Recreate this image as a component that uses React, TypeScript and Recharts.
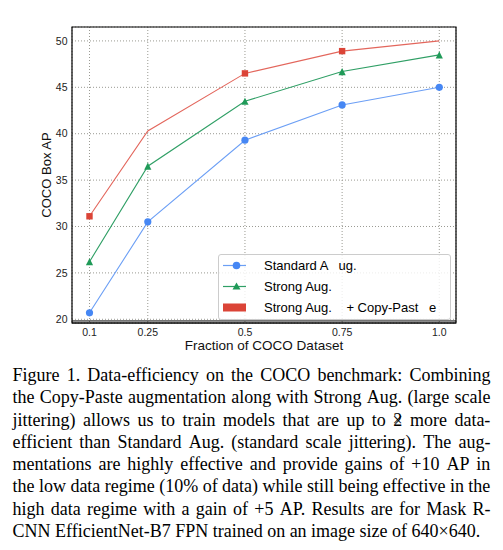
import React from 'react';
import {
  LineChart,
  Line,
  XAxis,
  YAxis,
  CartesianGrid,
  Legend,
  Label,
  ReferenceArea,
  ReferenceLine,
} from 'recharts';

// ---- data ----
const fractions = [0.1, 0.25, 0.5, 0.75, 1.0];
const xTickLabels = ['0.1', '0.25', '0.5', '0.75', '1.0'];
const yTicks = [20, 25, 30, 35, 40, 45, 50];
const standardAug = [20.7, 30.5, 39.3, 43.1, 45.0];
const strongAug = [26.2, 36.5, 43.5, 46.7, 48.5];
const copyPaste = [31.1, 40.3, 46.5, 48.9, 50.0];
const copyPasteMarked = [true, false, true, true, false];
const seriesNames = ['Standard A   ug.', 'Strong Aug.', 'Strong Aug.    + Copy-Past   e'];
const lineColors = ['#6c9ff5', '#2f9f65', '#e3665c'];
const markerColors = ['#4687f4', '#1f9a58', '#db4437'];
const legendShapes = ['circle', 'triangle', 'rect'];
const captionLines = [
  'Figure 1. Data-efficiency on the COCO benchmark: Combining',
  'the Copy-Paste augmentation along with Strong Aug. (large scale',
  'jittering) allows us to train models that are up to 2× more data-',
  'efficient than Standard Aug. (standard scale jittering). The aug-',
  'mentations are highly effective and provide gains of +10 AP in',
  'the low data regime (10% of data) while still being effective in the',
  'high data regime with a gain of +5 AP. Results are for Mask R-',
  'CNN EfficientNet-B7 FPN trained on an image size of 640×640.',
];

const X_DOMAIN: [number, number] = [0.055, 1.043];
const Y_DOMAIN: [number, number] = [19.6, 51.5];
const Y_DOUBLE_LINE = 19.82;

const data = fractions.map((x, i) => ({
  x,
  std: standardAug[i],
  strong: strongAug[i],
  cp: copyPaste[i],
  cpMarked: copyPasteMarked[i],
}));

const sans = '"Liberation Sans", Arial, sans-serif';
const serif = '"Liberation Serif", "Times New Roman", serif';

const CircleDot = (props: any) => {
  const { cx, cy, index } = props;
  if (cx == null || cy == null) return <g key={`c${index}`} />;
  return <circle key={`c${index}`} cx={cx} cy={cy} r={3.6} fill={markerColors[0]} stroke="none" />;
};

const TriangleDot = (props: any) => {
  const { cx, cy, index } = props;
  if (cx == null || cy == null) return <g key={`t${index}`} />;
  const r = 3.6;
  return (
    <polygon
      key={`t${index}`}
      points={`${cx},${cy - r} ${cx - r},${cy + r} ${cx + r},${cy + r}`}
      fill={markerColors[1]}
      stroke="none"
    />
  );
};

const SquareDot = (props: any) => {
  const { cx, cy, index, payload } = props;
  if (cx == null || cy == null || !payload || !payload.cpMarked) return <g key={`s${index}`} />;
  const h = 3.2;
  return <rect key={`s${index}`} x={cx - h} y={cy - h} width={2 * h} height={2 * h} fill={markerColors[2]} stroke="none" />;
};

const LegendSample = ({ shape, i }: { shape: string; i: number }) => {
  if (shape === 'rect') {
    return (
      <svg width={23} height={21} style={{ display: 'block' }}>
        <rect x={0} y={6.5} width={23} height={8} fill={markerColors[i]} />
      </svg>
    );
  }
  return (
    <svg width={23} height={21} style={{ display: 'block' }}>
      <line x1={0} y1={10.5} x2={23} y2={10.5} stroke={lineColors[i]} strokeWidth={1.2} />
      {shape === 'circle' ? (
        <circle cx={13.5} cy={10.5} r={3.8} fill={markerColors[i]} />
      ) : (
        <polygon points={`13.5,6.5 9.5,13.5 17.5,13.5`} fill={markerColors[i]} />
      )}
    </svg>
  );
};

const LegendBox = (props: any) => {
  const payload: any[] = props.payload || [];
  return (
    <div
      style={{
        boxSizing: 'border-box',
        width: 233,
        height: 66,
        border: '1px solid #cccccc',
        borderRadius: 3,
        background: 'rgba(255,255,255,0.82)',
        fontFamily: sans,
        fontSize: 13,
        color: '#000',
        paddingTop: 0,
      }}
    >
      {payload.map((entry, i) => (
        <div key={i} style={{ display: 'flex', alignItems: 'center', height: 21 }}>
          <div style={{ marginLeft: 4, width: 23 }}>
            <LegendSample shape={legendShapes[i]} i={i} />
          </div>
          <span style={{ marginLeft: 18, whiteSpace: 'pre', lineHeight: '21px' }}>{entry.value}</span>
        </div>
      ))}
    </div>
  );
};

const Word = ({ w }: { w: string }) => {
  if (w === '2×') {
    return (
      <span style={{ whiteSpace: 'pre' }}>
        <span>2</span>
        <span style={{ position: 'relative', left: '-0.55em', marginRight: '-0.56em' }}>×</span>
      </span>
    );
  }
  return <span style={{ whiteSpace: 'pre' }}>{w}</span>;
};

const CaptionLine = ({ text, last }: { text: string; last: boolean }) => {
  if (last) {
    return <div style={{ whiteSpace: 'pre' }}>{text}</div>;
  }
  const words = text.split(' ');
  return (
    <div style={{ display: 'flex', justifyContent: 'space-between', whiteSpace: 'nowrap' }}>
      {words.map((w, i) => (
        <Word key={i} w={w} />
      ))}
    </div>
  );
};

export default function App() {
  return (
    <div
      style={{
        position: 'absolute',
        left: 0,
        top: 0,
        width: 503,
        height: 550,
        background: '#ffffff',
        overflow: 'hidden',
      }}
    >
      <div style={{ position: 'absolute', left: 0, top: 0 }}>
        <LineChart width={503} height={360} data={data} margin={{ top: 27, right: 47, bottom: 0, left: 22 }}>
          <CartesianGrid stroke="#9a9a92" strokeDasharray="1 2" strokeWidth={1} />
          <XAxis
            type="number"
            dataKey="x"
            domain={X_DOMAIN}
            ticks={fractions}
            allowDataOverflow
            interval={0}
            height={37}
            tickLine={false}
            axisLine={{ stroke: '#000', strokeWidth: 1.2 }}
            tickSize={0}
            tickMargin={5.5}
            tick={{ fontSize: 10.5, fill: '#222', fontFamily: sans }}
            tickFormatter={(v: number) => xTickLabels[fractions.indexOf(v)] ?? String(v)}
          >
            <Label
              value="Fraction of COCO Dataset"
              position="insideBottom"
              offset={10}
              style={{ fontSize: 13.5, fill: '#111', fontFamily: sans }}
            />
          </XAxis>
          <YAxis
            type="number"
            domain={Y_DOMAIN}
            ticks={yTicks}
            allowDataOverflow
            interval={0}
            width={50}
            tickLine={false}
            axisLine={false}
            tickSize={0}
            tickMargin={4.5}
            tick={{ fontSize: 10.5, fill: '#222', fontFamily: sans }}
          >
            <Label
              value="COCO Box AP"
              angle={-90}
              position="insideLeft"
              offset={24}
              style={{ fontSize: 13, fill: '#111', fontFamily: sans, textAnchor: 'middle' }}
            />
          </YAxis>
          <ReferenceArea
            x1={X_DOMAIN[0]}
            x2={X_DOMAIN[1]}
            y1={Y_DOMAIN[0]}
            y2={Y_DOMAIN[1]}
            fill="none"
            stroke="#000"
            strokeWidth={1.2}
            ifOverflow="visible"
          />
          <ReferenceLine y={Y_DOUBLE_LINE} stroke="#000" strokeWidth={1} ifOverflow="visible" />
          <Line
            type="linear"
            dataKey="std"
            name={seriesNames[0]}
            stroke={lineColors[0]}
            strokeWidth={1.1}
            dot={CircleDot}
            activeDot={false}
            isAnimationActive={false}
          />
          <Line
            type="linear"
            dataKey="strong"
            name={seriesNames[1]}
            stroke={lineColors[1]}
            strokeWidth={1.1}
            dot={TriangleDot}
            activeDot={false}
            isAnimationActive={false}
          />
          <Line
            type="linear"
            dataKey="cp"
            name={seriesNames[2]}
            stroke={lineColors[2]}
            strokeWidth={1.1}
            dot={SquareDot}
            activeDot={false}
            isAnimationActive={false}
          />
          <Legend
            layout="horizontal"
            verticalAlign="middle"
            align="center"
            content={<LegendBox />}
            wrapperStyle={{ position: 'absolute', left: 218, top: 254, width: 233, height: 66 }}
          />
        </LineChart>
      </div>
      <div
        style={{
          position: 'absolute',
          left: 12.5,
          top: 364,
          width: 478,
          fontFamily: serif,
          fontSize: 18,
          lineHeight: '22.3px',
          color: '#000',
        }}
      >
        {captionLines.map((t, i) => (
          <CaptionLine key={i} text={t} last={i === captionLines.length - 1} />
        ))}
      </div>
    </div>
  );
}
